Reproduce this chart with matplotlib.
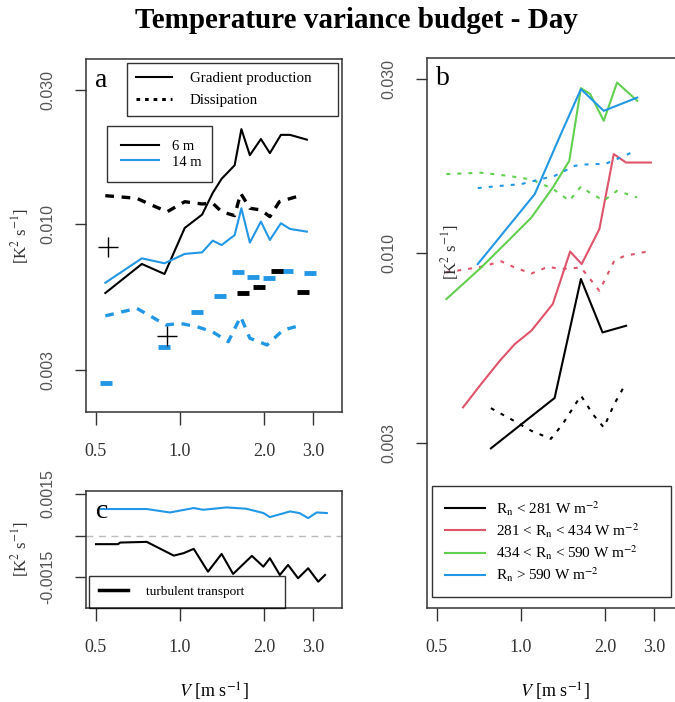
import matplotlib
matplotlib.use('Agg')
import matplotlib.pyplot as plt
from matplotlib.lines import Line2D
from matplotlib.ticker import FixedLocator, FixedFormatter, NullLocator

plt.rcParams['font.family'] = ['Liberation Serif', 'DejaVu Serif']
plt.rcParams['mathtext.fontset'] = 'stix'

BLACK = 'black'
RED = '#DF536B'
GREEN = '#61D04F'
BLUE = '#2297E6'

# panel a - gradient production
V_grad = [0.54, 0.73, 0.88, 1.04, 1.20, 1.31, 1.41, 1.57, 1.66, 1.78, 1.95, 2.10, 2.30, 2.48, 2.85]
grad_6m = [0.00567, 0.0072, 0.00663, 0.00968, 0.0108, 0.0129, 0.0145, 0.0162, 0.0218,
           0.0176, 0.0201, 0.0179, 0.0208, 0.0208, 0.0200]
grad_14m = [0.00617, 0.00754, 0.00724, 0.00782, 0.00792, 0.00872, 0.00841, 0.00913, 0.01138,
            0.00858, 0.0102, 0.00877, 0.01006, 0.0096, 0.00939]

# panel a - dissipation
V_diss_6m = [0.54, 0.70, 0.79, 0.90, 1.04, 1.20, 1.31, 1.41, 1.57, 1.65, 1.78, 1.95, 2.10, 2.27, 2.62]
diss_6m = [0.01262, 0.01235, 0.01169, 0.01106, 0.01201, 0.01179, 0.01186, 0.01106, 0.01071,
           0.01287, 0.01138, 0.01122, 0.01062, 0.01201, 0.01252]
V_diss_14m = [0.54, 0.70, 0.79, 0.89, 1.00, 1.15, 1.31, 1.49, 1.65, 1.78, 2.05, 2.34, 2.73]
diss_14m = [0.00470, 0.00500, 0.00467, 0.00436, 0.00442, 0.00430, 0.00412, 0.00380, 0.00467,
            0.00391, 0.00370, 0.00418, 0.00436]

# panel a - single points
V_dash_14m = [0.544, 0.876, 1.155, 1.39, 1.61, 1.82, 2.09, 2.42, 2.93]
dash_14m = [0.00270, 0.00365, 0.00486, 0.00555, 0.00674, 0.00645, 0.00640, 0.00681, 0.00667]
V_dash_6m = [1.68, 1.92, 2.23, 2.75]
dash_6m = [0.00568, 0.00597, 0.00681, 0.00574]
V_plus = [0.553, 0.90]
plus_vals = [0.00826, 0.00398]

# panel b - by net radiation class
rn_labels = [r'R$_\mathrm{n}$ < 281 W m$^{-2}$',
             r'281 < R$_\mathrm{n}$ < 434 W m$^{-2}$',
             r'434 < R$_\mathrm{n}$ < 590 W m$^{-2}$',
             r'R$_\mathrm{n}$ > 590 W m$^{-2}$']
V_b_black = [0.78, 1.32, 1.64, 1.96, 2.38]
grad_b_black = [0.0029, 0.00399, 0.00847, 0.00604, 0.0063]
V_b_black_d = [0.78, 0.92, 1.09, 1.28, 1.41, 1.64, 1.81, 1.98, 2.16, 2.35]
diss_b_black = [0.00374, 0.00349, 0.00324, 0.00308, 0.00338, 0.00405, 0.0036, 0.00331, 0.00384, 0.00431]
V_b_red = [0.62, 0.72, 0.84, 0.95, 1.09, 1.30, 1.50, 1.65, 1.91, 2.15, 2.38, 2.92]
grad_b_red = [0.00376, 0.00436, 0.00505, 0.00561, 0.00611, 0.00723, 0.01008, 0.00931, 0.01162,
              0.01867, 0.0177, 0.0177]
V_b_red_d = [0.54, 0.72, 0.85, 0.95, 1.09, 1.25, 1.39, 1.64, 1.91, 2.16, 2.35, 2.80]
diss_b_red = [0.00883, 0.00915, 0.00947, 0.00911, 0.00877, 0.00915, 0.00902, 0.00911, 0.00786,
              0.00951, 0.0098, 0.01006]
V_b_green = [0.54, 0.72, 0.90, 1.09, 1.30, 1.49, 1.64, 1.77, 1.98, 2.21, 2.61]
grad_b_green = [0.00746, 0.00911, 0.01079, 0.0125, 0.0151, 0.0179, 0.02834, 0.0273, 0.02305,
                0.02937, 0.02616]
diss_b_green = [0.01645, 0.0166, 0.01627, 0.0159, 0.0150, 0.0139, 0.0152, 0.0146, 0.0139,
                0.0148, 0.0142]
V_b_blue = [0.70, 1.12, 1.39, 1.64, 1.98, 2.61]
grad_b_blue = [0.00931, 0.01449, 0.0212, 0.02817, 0.02455, 0.0267]
V_b_blue_d = [0.70, 0.85, 1.00, 1.18, 1.32, 1.56, 1.77, 2.00, 2.35, 2.60]
diss_b_blue = [0.01506, 0.01528, 0.01544, 0.01594, 0.01627, 0.01734, 0.01753, 0.01753,
               0.01847, 0.01916]

# panel c - turbulent transport
V_c_blue = [0.52, 0.76, 0.92, 1.12, 1.21, 1.47, 1.73, 1.99, 2.10, 2.48, 2.68, 2.88, 3.09, 3.36]
tt_14m = [0.000958, 0.000958, 0.000834, 0.000994, 0.000932, 0.001016, 0.000969, 0.000813,
          0.000667, 0.000871, 0.000813, 0.000631, 0.000834, 0.000813]
V_c_black = [0.50, 0.60, 0.61, 0.76, 0.95, 1.03, 1.12, 1.26, 1.41, 1.55, 1.81, 1.99, 2.10,
             2.28, 2.44, 2.65, 2.88, 3.13, 3.31]
tt_6m = [-0.000312, -0.000312, -0.000254, -0.000229, -0.000726, -0.000638, -0.000482,
         -0.001306, -0.000664, -0.001389, -0.000736, -0.001125, -0.00082, -0.001426,
         -0.001063, -0.001545, -0.001183, -0.001669, -0.001426]

x_ticks = [0.5, 1.0, 2.0, 3.0]
x_ticklabels = ['0.5', '1.0', '2.0', '3.0']
xlim = (0.4604, 3.808)

ylab = r'[K$^2$ s$^{-1}$]'
xlab = r'$V$ [m s$^{-1}$]'

dot_a = (0, (2.6, 2.3))
dot_b = (0, (1.9, 3.4))

fig = plt.figure(figsize=(6.75, 7.02), dpi=100)
ax_a = fig.add_axes([86/675, 1-412/702, 256/675, 353/702])
ax_c = fig.add_axes([86/675, 1-608/702, 256/675, 117/702])
ax_b = fig.add_axes([427/675, 1-608/702, 256/675, 550/702])


def style(ax, yticks, ylabels):
    ax.set_xscale('log')
    ax.set_xlim(*xlim)
    ax.xaxis.set_major_locator(FixedLocator(x_ticks))
    ax.xaxis.set_major_formatter(FixedFormatter(x_ticklabels))
    ax.xaxis.set_minor_locator(NullLocator())
    ax.yaxis.set_major_locator(FixedLocator(yticks))
    ax.yaxis.set_major_formatter(FixedFormatter(ylabels))
    ax.yaxis.set_minor_locator(NullLocator())
    ax.tick_params(axis='x', direction='out', length=9, width=1, pad=13,
                   labelsize=13, colors='#333333')
    ax.tick_params(axis='y', direction='out', length=8, width=1, pad=14,
                   labelsize=11.5, colors='#333333', labelcolor='#555555')
    for lab in ax.get_yticklabels():
        lab.set_rotation(90)
        lab.set_va('center')
        lab.set_family(['Liberation Sans', 'DejaVu Sans'])
    for s in ax.spines.values():
        s.set_color('#333333')
        s.set_linewidth(1.1)


# ---- panel a
ax_a.set_yscale('log')
ax_a.set_ylim(0.002133, 0.0388)
style(ax_a, [0.003, 0.01, 0.03], ['0.003', '0.010', '0.030'])
ax_a.plot(V_grad, grad_6m, color=BLACK, lw=1.5)
ax_a.plot(V_grad, grad_14m, color=BLUE, lw=1.5)
ax_a.plot(V_diss_6m, diss_6m, color=BLACK, lw=2.4, linestyle=dot_a)
ax_a.plot(V_diss_14m, diss_14m, color=BLUE, lw=2.4, linestyle=dot_a)
ax_a.plot(V_dash_14m, dash_14m, linestyle='none', marker='_', ms=9, mew=3.5, color=BLUE)
ax_a.plot(V_dash_6m, dash_6m, linestyle='none', marker='_', ms=9, mew=3.5, color=BLACK)
ax_a.plot(V_plus, plus_vals, linestyle='none', marker='+', ms=15, mew=1, color=BLACK)
ax_a.text(0.035, 0.975, 'a', transform=ax_a.transAxes, fontsize=20, va='top', ha='left')

leg1 = ax_a.legend([Line2D([], [], color=BLACK, lw=1.5),
                    Line2D([], [], color=BLACK, lw=2.2, linestyle=(0, (1.2, 1.6)))],
                   ['Gradient production', 'Dissipation'],
                   loc='upper left', bbox_to_anchor=(0.16, 0.989, 0.824, 0), mode='expand',
                   fontsize=10.8, frameon=True, fancybox=False, edgecolor=BLACK,
                   handlelength=2.4, handletextpad=1.2, labelspacing=0.55,
                   borderpad=0.6, borderaxespad=0)
leg1.get_frame().set_linewidth(1)
ax_a.add_artist(leg1)
leg2 = ax_a.legend([Line2D([], [], color=BLACK, lw=1.5),
                    Line2D([], [], color=BLUE, lw=1.5)],
                   ['6 m', '14 m'],
                   loc='upper left', bbox_to_anchor=(0.082, 0.81, 0.41, 0), mode='expand',
                   fontsize=10.5, frameon=True, fancybox=False, edgecolor=BLACK,
                   handlelength=2.6, handletextpad=0.9, labelspacing=0.15,
                   borderpad=0.95, borderaxespad=0)
leg2.get_frame().set_linewidth(1)

# ---- panel c
ax_c.set_ylim(-0.00262, 0.00161)
style(ax_c, [-0.0015, 0.0, 0.0015], ['-0.0015', '', '0.0015'])
ax_c.axhline(0, color='#bbbbbb', lw=1, linestyle=(0, (5, 4)))
ax_c.plot(V_c_blue, tt_14m, color=BLUE, lw=1.5)
ax_c.plot(V_c_black, tt_6m, color=BLACK, lw=1.5)
ax_c.text(0.04, 0.93, 'c', transform=ax_c.transAxes, fontsize=20, va='top', ha='left')
leg3 = ax_c.legend([Line2D([], [], color=BLACK, lw=2.5)], ['turbulent transport'],
                   loc='lower left', bbox_to_anchor=(0.012, 0.0, 0.765, 0.33), mode='expand',
                   fontsize=9.5, frameon=True, fancybox=False, edgecolor=BLACK,
                   facecolor='none', handlelength=2.2, handletextpad=1.4,
                   borderpad=0.75, borderaxespad=0)
leg3.get_frame().set_linewidth(1)
ax_c.set_xlabel(xlab, fontsize=13, labelpad=18)

# ---- panel b
ax_b.set_yscale('log')
ax_b.set_ylim(0.001056, 0.0343)
style(ax_b, [0.003, 0.01, 0.03], ['0.003', '0.010', '0.030'])
ax_b.plot(V_b_black, grad_b_black, color=BLACK, lw=1.5)
ax_b.plot(V_b_black_d, diss_b_black, color=BLACK, lw=1.5, linestyle=dot_b)
ax_b.plot(V_b_red, grad_b_red, color=RED, lw=1.5)
ax_b.plot(V_b_red_d, diss_b_red, color=RED, lw=1.5, linestyle=dot_b)
ax_b.plot(V_b_green, grad_b_green, color=GREEN, lw=1.5)
ax_b.plot(V_b_green, diss_b_green, color=GREEN, lw=1.5, linestyle=dot_b)
ax_b.plot(V_b_blue, grad_b_blue, color=BLUE, lw=1.5)
ax_b.plot(V_b_blue_d, diss_b_blue, color=BLUE, lw=1.5, linestyle=dot_b)
ax_b.text(0.035, 0.985, 'b', transform=ax_b.transAxes, fontsize=20, va='top', ha='left')
leg4 = ax_b.legend([Line2D([], [], color=c, lw=1.5) for c in (BLACK, RED, GREEN, BLUE)],
                   rn_labels, loc='lower left', bbox_to_anchor=(0.02, 0.02, 0.933, 0.2),
                   mode='expand', fontsize=11, frameon=True, fancybox=False,
                   edgecolor=BLACK, handlelength=2.6, handletextpad=0.7,
                   labelspacing=0.22, borderpad=0.85, borderaxespad=0)
leg4.get_frame().set_linewidth(1)
ax_b.set_xlabel(xlab, fontsize=13, labelpad=18)

# y labels
fig.text(20/675, 1-236/702, ylab, rotation=90, ha='center', va='center',
         fontsize=12, color='#333333')
fig.text(20/675, 1-549/702, ylab, rotation=90, ha='center', va='center',
         fontsize=12, color='#333333')
fig.text(450/675, 1-252/702, ylab, rotation=90, ha='center', va='center',
         fontsize=12, color='#333333')

fig.text(356/675, 1-20/702, 'Temperature variance budget - Day',
         ha='center', va='center', fontsize=21, fontweight='bold')

fig.savefig('out.png', dpi=100)
